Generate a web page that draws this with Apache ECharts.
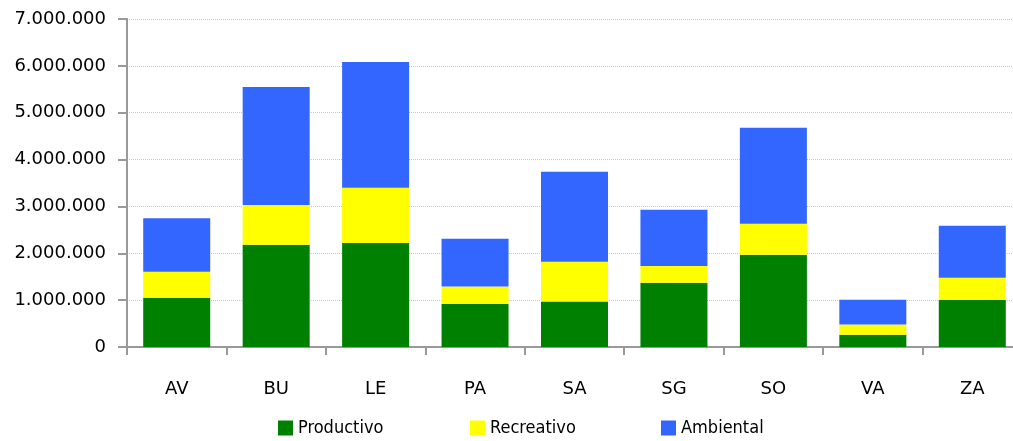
<!DOCTYPE html>
<html><head><meta charset="utf-8">
<script src="https://cdn.jsdelivr.net/npm/echarts@6/dist/echarts.min.js"></script>
<style>html,body{margin:0;padding:0;background:#fff;overflow:hidden}#c{width:1030px;height:441px}</style>
</head><body><div id="c"></div>
<script>
const categories = ['AV','BU','LE','PA','SA','SG','SO','VA','ZA'];
const productivo = [1050000, 2180000, 2220000, 920000, 970000, 1370000, 1970000, 260000, 1010000];
const recreativo = [555000, 850000, 1180000, 370000, 850000, 360000, 660000, 220000, 470000];
const ambiental = [1145000, 2520000, 2680000, 1020000, 1920000, 1200000, 2050000, 530000, 1110000];
const seriesNames = ['Productivo','Recreativo','Ambiental'];
const colors = ['#008000','#FFFF00','#3366FF'];

const chart = echarts.init(document.getElementById('c'));
const font = 'DejaVu Sans';
function fmt(v){return String(v).replace(/\B(?=(\d{3})+(?!\d))/g,'.');}
const legendLefts = [273, 465, 656];
chart.setOption({
  animation:false,
  textStyle:{fontFamily:font},
  grid:{left:127, top:19, width:895, bottom:94, containLabel:false},
  legend: seriesNames.map((n,i)=>({
    data:[n], left:legendLefts[i], top:414, itemWidth:15, itemHeight:15, itemGap:0,
    icon:'rect', textStyle:{fontFamily:'DejaVu Sans Condensed', fontSize:18, color:'#000'}
  })),
  xAxis:{type:'category', data:categories, boundaryGap:true,
    axisLine:{lineStyle:{color:'#999', width:2}},
    axisTick:{show:true, alignWithLabel:false, length:8, lineStyle:{color:'#999', width:2}},
    axisLabel:{fontFamily:font, fontSize:18, color:'#000', margin:33}},
  yAxis:{type:'value', min:0, max:7000000, interval:1000000,
    axisLine:{show:true, lineStyle:{color:'#999', width:2}},
    axisTick:{show:true, length:9, lineStyle:{color:'#999', width:2}},
    splitLine:{lineStyle:{color:'#c8c8c8', type:'dotted', width:1}},
    axisLabel:{fontFamily:font, fontSize:18, color:'#000', margin:21, formatter:fmt}},
  series:[productivo, recreativo, ambiental].map((d,i)=>({
    name:seriesNames[i], type:'bar', stack:'total', data:d, barWidth:67,
    itemStyle:{color:colors[i]}
  }))
});
</script></body></html>
